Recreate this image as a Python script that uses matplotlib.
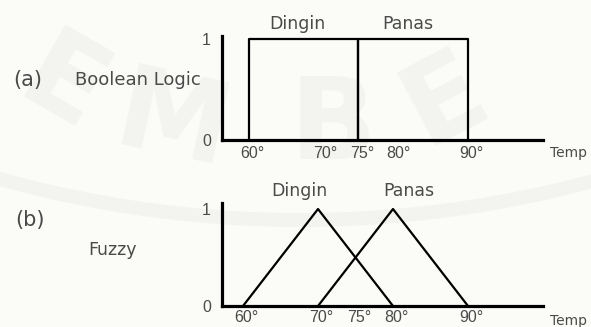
import matplotlib.pyplot as plt
from matplotlib.patches import Arc
from matplotlib.transforms import ScaledTranslation

plt.rcParams["font.family"] = ["DejaVu Sans"]

# membership breakpoints (temperature, degree of membership)
bool_dingin_x = [60, 60, 75, 75]
bool_dingin_y = [0, 1, 1, 0]
bool_panas_x = [75, 75, 90, 90]
bool_panas_y = [0, 1, 1, 0]

fuzzy_dingin_x = [60, 70, 80]
fuzzy_dingin_y = [0, 1, 0]
fuzzy_panas_x = [70, 80, 90]
fuzzy_panas_y = [0, 1, 0]

tick_values = [60, 70, 75, 80, 90]
tick_labels = ["60°", "70°", "75°", "80°", "90°"]

W, H = 591, 327
TEXT = "#4a4a4a"
BG = "#fbfbf7"
MARK = "#f3f3ef"
NUM_FONT = ["Liberation Sans", "DejaVu Sans"]

fig = plt.figure(figsize=(W / 100, H / 100), dpi=100)
fig.patch.set_facecolor(BG)


def fx(px):
    return px / W


def fy(py):
    return 1 - py / H


# faint repository watermark behind everything
for ch, x, y, rot, size in [("E", 62, 88, -30, 82), ("M", 172, 125, -12, 82),
                            ("B", 333, 128, 0, 82), ("E", 445, 100, 28, 82)]:
    fig.text(fx(x), fy(y), ch, fontsize=size, fontweight="bold", color=MARK,
             ha="center", va="center", rotation=rot, zorder=-10)
ring = Arc((fx(300), fy(-900)), width=2 * 1120 / W, height=2 * 1120 / H,
           theta1=240, theta2=300, transform=fig.transFigure,
           color=MARK, lw=10, zorder=-10)
fig.patches.append(ring)


def setup_axes(rect, xlim, ylim, label_drop):
    ax = fig.add_axes(rect)
    ax.set_facecolor("none")
    ax.set_xlim(*xlim)
    ax.set_ylim(*ylim)
    for side in ("top", "right"):
        ax.spines[side].set_visible(False)
    for side in ("left", "bottom"):
        ax.spines[side].set_linewidth(2.3)
        ax.spines[side].set_color("black")
    ax.set_xticks(tick_values)
    ax.set_xticklabels(tick_labels, fontsize=11.5, color=TEXT, family=NUM_FONT)
    ax.set_yticks([0, 1])
    ax.set_yticklabels(["0", "1"], fontsize=11.5, color=TEXT, family=NUM_FONT)
    ax.tick_params(axis="x", length=0, pad=label_drop)
    ax.tick_params(axis="y", length=0, pad=8)
    # shift the degree labels so the number sits under the value
    shift = ScaledTranslation(2.5 / 72, 0, fig.dpi_scale_trans)
    for lab in ax.get_xticklabels():
        lab.set_transform(lab.get_transform() + shift)
    return ax


# (a) crisp sets
ax1 = setup_axes([fx(222), fy(140), fx(543) - fx(222), fy(36) - fy(140)],
                 (56.3, 100.3), (0, 1.03), 4)
ax1.plot(bool_dingin_x, bool_dingin_y, color="black", lw=1.6, clip_on=False)
ax1.plot(bool_panas_x, bool_panas_y, color="black", lw=1.6, clip_on=False)
ax1.text(66.7, 1.15, "Dingin", fontsize=12.5, color=TEXT, ha="center", va="center")
ax1.text(81.8, 1.15, "Panas", fontsize=12.5, color=TEXT, ha="center", va="center")

# (b) fuzzy sets
ax2 = setup_axes([fx(222), fy(306), fx(543) - fx(222), fy(203) - fy(306)],
                 (57.2, 100.0), (0, 1.062), 3)
ax2.plot(fuzzy_dingin_x, fuzzy_dingin_y, color="black", lw=1.6, clip_on=False)
ax2.plot(fuzzy_panas_x, fuzzy_panas_y, color="black", lw=1.6, clip_on=False)
ax2.text(67.5, 1.186, "Dingin", fontsize=12.5, color=TEXT, ha="center", va="center")
ax2.text(82.1, 1.186, "Panas", fontsize=12.5, color=TEXT, ha="center", va="center")

# row captions and axis names
fig.text(fx(13), fy(80), "(a)", fontsize=15, color=TEXT, va="center")
fig.text(fx(75), fy(80), "Boolean Logic", fontsize=13, color=TEXT, va="center")
fig.text(fx(15), fy(220), "(b)", fontsize=15, color=TEXT, va="center")
fig.text(fx(88), fy(250), "Fuzzy", fontsize=12.5, color=TEXT, va="center")
fig.text(fx(550), fy(153), "Temp", fontsize=10, color=TEXT, va="center")
fig.text(fx(550), fy(321), "Temp", fontsize=10, color=TEXT, va="center")

fig.savefig("out.png", dpi=100, facecolor=BG)
